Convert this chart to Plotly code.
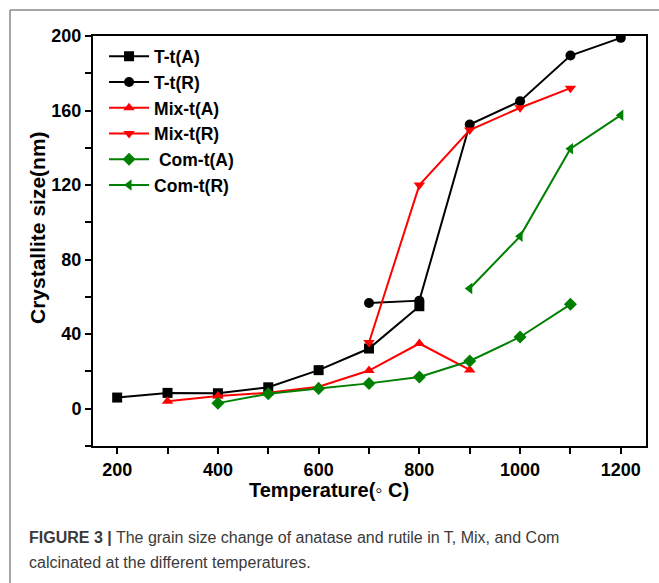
import plotly.graph_objects as go

temps_TA = [200, 300, 400, 500, 600, 700, 800]
size_TA = [6, 8.5, 8.3, 11.5, 20.7, 32.3, 55]
temps_TR = [700, 800, 900, 1000, 1100, 1200]
size_TR = [56.7, 58, 152.5, 165, 189.5, 199]
temps_MA = [300, 400, 500, 600, 700, 800, 900]
size_MA = [4, 6.8, 8.6, 11.8, 20.5, 35, 20.8]
temps_MR = [700, 800, 900, 1000, 1100]
size_MR = [35.5, 120, 149.5, 161.5, 172]
temps_CA = [400, 500, 600, 700, 800, 900, 1000, 1100]
size_CA = [3, 8, 10.8, 13.6, 17, 25.6, 38.5, 56]
temps_CR = [900, 1000, 1100, 1200]
size_CR = [64.5, 92.5, 139.5, 157.5]

series = [
    ("T-t(A)", temps_TA, size_TA, "black", "square"),
    ("T-t(R)", temps_TR, size_TR, "black", "circle"),
    ("Mix-t(A)", temps_MA, size_MA, "#ff0000", "triangle-up"),
    ("Mix-t(R)", temps_MR, size_MR, "#ff0000", "triangle-down"),
    (" Com-t(A)", temps_CA, size_CA, "#008000", "diamond"),
    ("Com-t(R)", temps_CR, size_CR, "#008000", "triangle-left"),
]

x_ticks = [200, 400, 600, 800, 1000, 1200]
y_ticks = [0, 40, 80, 120, 160, 200]

W, H = 659, 583
L, R, T, B = 93, 13, 36, 137
pw, ph = W - L - R, H - T - B

def px(x):
    return (x - L) / pw

def py(y):
    return (H - B - y) / ph

fig = go.Figure()
for name, xs, ys, col, sym in series:
    fig.add_trace(go.Scatter(
        x=xs, y=ys, name=name, mode="lines+markers",
        line=dict(color=col, width=2),
        marker=dict(symbol=sym, size=10, color=col),
    ))

font = "Liberation Sans, Arial, sans-serif"
axis_common = dict(
    showline=True, linecolor="black", linewidth=2, mirror=True,
    ticks="outside", ticklen=6, tickwidth=1.5, tickcolor="black",
    showgrid=False, zeroline=False,
    tickfont=dict(family=font, size=18, color="black", weight="bold"),
)
fig.update_xaxes(
    range=[152, 1250], tickvals=x_ticks,
    minor=dict(dtick=100, tick0=200, ticks="outside", ticklen=6, tickwidth=1.5, tickcolor="black"),
    **axis_common,
)
fig.update_yaxes(
    range=[-20, 200], tickvals=y_ticks,
    minor=dict(dtick=20, tick0=0, ticks="outside", ticklen=6, tickwidth=1.5, tickcolor="black"),
    **axis_common,
)

fig.update_layout(
    width=W, height=H,
    margin=dict(l=L, r=R, t=T, b=B, autoexpand=False),
    paper_bgcolor="white", plot_bgcolor="white",
    showlegend=True,
    legend=dict(
        x=0.02, y=0.994, xanchor="left", yanchor="top",
        bgcolor="rgba(0,0,0,0)", borderwidth=0,
        font=dict(family=font, size=17.5, color="black", weight="bold"),
        tracegroupgap=0, itemwidth=40,
    ),
    shapes=[
        dict(type="line", xref="paper", yref="paper", x0=px(10), x1=px(10), y0=py(10), y1=py(600),
             line=dict(color="#8a8a8a", width=1.5)),
        dict(type="line", xref="paper", yref="paper", x0=px(10), x1=px(700), y0=py(10), y1=py(10),
             line=dict(color="#8a8a8a", width=1.5)),
    ],
    annotations=[
        dict(xref="paper", yref="paper", x=px(329), y=py(490), xanchor="center", yanchor="middle",
             showarrow=False, text="<b>Temperature(◦ C)</b>",
             font=dict(family=font, size=20, color="black")),
        dict(xref="paper", yref="paper", x=px(37), y=py(228), xanchor="center", yanchor="middle",
             showarrow=False, textangle=-90, text="<b>Crystallite size(nm)</b>",
             font=dict(family=font, size=21, color="black")),
        dict(xref="paper", yref="paper", x=px(27), y=py(537), xanchor="left", yanchor="middle",
             showarrow=False, align="left",
             text="<b>FIGURE 3 |</b> The grain size change of anatase and rutile in T, Mix, and Com",
             font=dict(family=font, size=16, color="#3a3a3a")),
        dict(xref="paper", yref="paper", x=px(27), y=py(562), xanchor="left", yanchor="middle",
             showarrow=False, align="left",
             text="calcinated at the different temperatures.",
             font=dict(family=font, size=16, color="#3a3a3a")),
    ],
)

fig.write_html("out.html")
